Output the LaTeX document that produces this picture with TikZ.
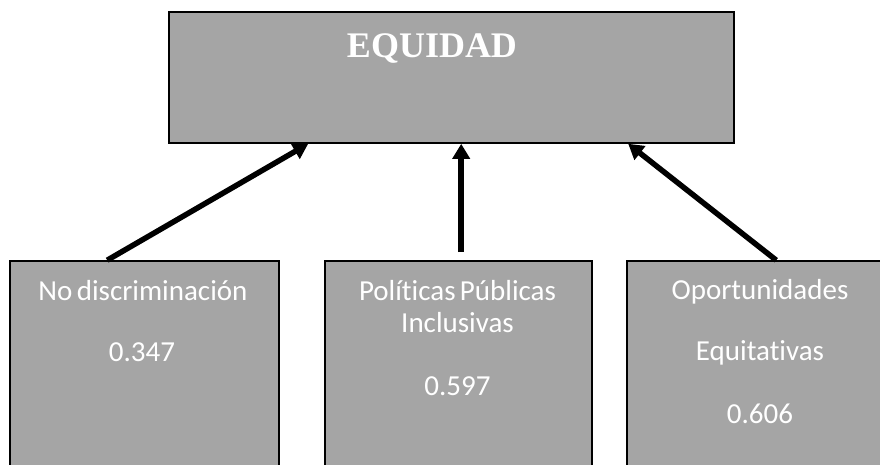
\documentclass[tikz,border=0pt]{standalone}
\usepackage{fontspec}
\setmainfont{Carlito}[Ligatures={NoCommon}]
\newfontfamily\titlefont{Liberation Serif}
\usetikzlibrary{arrows.meta,calc}
\definecolor{boxgray}{HTML}{A5A5A5}
\newcommand{\lblfont}{\fontsize{29}{32}\selectfont\spaceskip=0.15em\relax}
\begin{document}
\begin{tikzpicture}[x=1pt,y=-1pt,
  graybox/.style={draw=black,line width=1.6pt,fill=boxgray,rectangle,inner sep=0pt},
  lbl/.style={text=white,anchor=base,inner sep=0pt,font=\lblfont},
  arr/.style={line width=5.5pt,-{Triangle[width=17pt,length=15pt]}}]
\useasboundingbox (0,0) rectangle (880,464);
\clip (0,0) rectangle (880,464);
\node[graybox,minimum width=565pt,minimum height=131pt] (top) at (451.5,77.5) {};
\node[graybox,minimum width=269pt,minimum height=219pt] (b1) at (144.5,370.5) {};
\node[graybox,minimum width=267pt,minimum height=219pt] (b2) at (458.5,370.5) {};
\node[graybox,minimum width=266pt,minimum height=219pt] (b3) at (760,370.5) {};
\node[text=white,anchor=base,inner sep=0pt,font=\titlefont\bfseries\fontsize{36}{40}\selectfont] (t) at (432,57) {EQUIDAD};
\node[lbl] (l1a) at (143,300) {No discriminación};
\node[lbl] (l1b) at (142,361) {0.347};
\node[lbl] (l2a) at (457.5,300) {Políticas Públicas};
\node[lbl] (l2b) at (457.5,332) {Inclusivas};
\node[lbl] (l2c) at (457.5,395) {0.597};
\node[lbl] (l3a) at (760,299) {Oportunidades};
\node[lbl] (l3b) at (760,360) {Equitativas};
\node[lbl] (l3c) at (760,423) {0.606};
\draw[arr] ($(b1.north west)+(98,0)$) -- ($(top.south west)+(140,0)$);
\draw[arr] ($(b2.north west)+(137,-8)$) -- ($(top.south west)+(293,0)$);
\draw[arr] ($(b3.north west)+(150,0)$) -- ($(top.south west)+(460,0)$);
\end{tikzpicture}
\end{document}
